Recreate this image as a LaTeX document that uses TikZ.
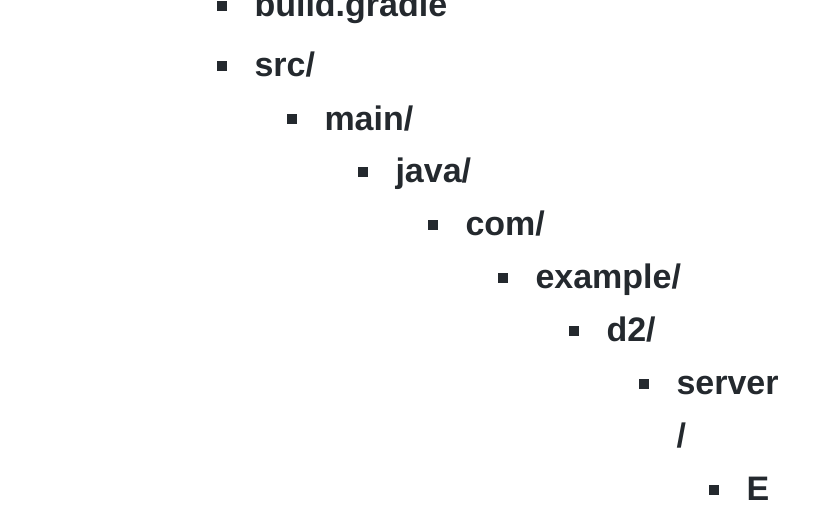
\documentclass[tikz,border=0pt]{standalone}
\usepackage{fontspec}
\setmainfont{Liberation Sans}
\usepackage{tikz}
\definecolor{ink}{RGB}{36,41,46}
\newcommand{\itemfont}{\fontsize{25.5}{39.75}\selectfont\bfseries}
\tikzset{every picture/.style={line width=0.75pt}}

\begin{document}
\begin{tikzpicture}[x=0.75pt,y=0.75pt,yscale=-1,xscale=1,
  entry/.style={anchor=base west,inner sep=0pt,font=\itemfont,text=ink,align=left},
  dot/.style={anchor=south west,fill=ink,minimum size=7.5pt,inner sep=0pt}]
%set diagram size 825 x 510
\useasboundingbox (0,0) rectangle (825,510);

% Bullets
\node [dot] (b0) at (216,12) {};
\node [dot] (b1) at (216,72) {};
\node [dot] (b2) at (286,125) {};
\node [dot] (b3) at (357,177) {};
\node [dot] (b4) at (427,230) {};
\node [dot] (b5) at (497,283) {};
\node [dot] (b6) at (568,336) {};
\node [dot] (b7) at (638,389) {};
\node [dot] (b8) at (708,495) {};

% Text Node
\node [entry] (gradle) at (254,17) {build.gradle};
% Text Node
\node [entry] (src) at (254,77) {src/};
% Text Node
\node [entry] (main) at (324,130) {main/};
% Text Node
\node [entry] (java) at (395,182) {java/};
% Text Node
\node [entry] (com) at (465,235) {com/};
% Text Node
\node [entry] (example) at (535,288) {example/};
% Text Node
\node [entry] (dtwo) at (606,341) {d2/};
% Text Node (wrapped, placed by its last line)
\node [entry] (server) at (676,447) {server\\/};
% Text Node
\node [entry] (leaf) at (746,500) {E};

\end{tikzpicture}
\end{document}
